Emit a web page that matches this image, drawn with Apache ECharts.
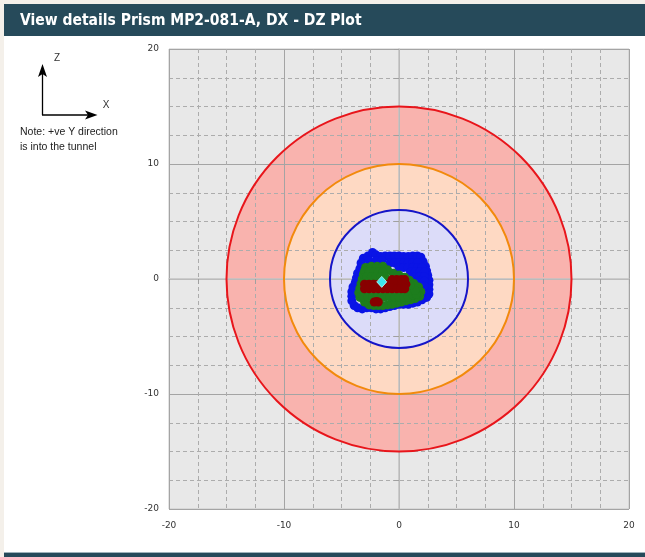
<!DOCTYPE html>
<html>
<head>
<meta charset="utf-8">
<script src="https://cdn.jsdelivr.net/npm/echarts@6/dist/echarts.min.js"></script>
<style>
html,body{margin:0;padding:0;background:#fff;}
#c{width:645px;height:557px;}
</style>
</head>
<body>
<div id="c"></div>
<script>
// ---------- data ----------
var titleText = 'View details Prism MP2-081-A, DX - DZ Plot';
var axisMin = -20, axisMax = 20, axisStep = 10;
var ringRadii = [15, 10, 6];           // tolerance circles (red, orange, blue)
var ringCentre = [0, 0];
var bluePoints = [
  [-3.1,1.8],[-2.7,2.0],[-2.3,2.3],[-2.0,2.1],[-1.6,1.95],[-1.2,2.0],[-0.8,2.0],[-0.4,2.0],[0,2.0],[0.4,1.95],[0.8,1.95],[1.2,2.0],[1.6,2.0],[1.9,1.9],
  [2.1,1.5],[2.3,1.1],[2.4,0.7],[2.5,0.3],[2.6,-0.1],[2.6,-0.5],[2.6,-0.9],[2.6,-1.3],[2.4,-1.6],
  [2.0,-1.8],[1.6,-2.0],[1.2,-2.1],[0.8,-2.2],[0.4,-2.2],[0,-2.2],[-0.4,-2.3],[-0.8,-2.4],[-1.2,-2.5],[-1.6,-2.6],[-2.0,-2.6],[-2.4,-2.5],[-2.8,-2.5],[-3.2,-2.6],[-3.6,-2.5],[-3.9,-2.3],
  [-4.1,-1.9],[-4.1,-1.5],[-4.1,-1.1],[-4.0,-0.7],[-3.8,-0.3],[-3.7,0.1],[-3.6,0.5],[-3.4,0.9],[-3.3,1.4],
  [-2.6,1.6],[-2.0,1.6],[-1.5,1.6],
  [-0.8,1.4],[-0.4,1.4],[0,1.4],[0.4,1.4],[0.8,1.4],[1.2,1.4],[1.6,1.4],
  [0,1.0],[0.4,1.0],[0.8,1.0],[1.2,1.0],[1.6,1.0],[2.0,1.0],
  [1.0,0.6],[1.4,0.6],[1.8,0.6],[2.2,0.6],[1.4,0.2],[1.8,0.2],[2.2,0.2],[1.8,-0.2],[2.2,-0.2],[2.2,-0.6]
];
var greenPoints = [
  [-2.9,1.0],[-2.4,1.1],[-1.9,1.1],[-1.4,1.1],[-1.0,0.8],[-0.5,0.5],[0,0.35],[0.5,0.15],[0.9,-0.1],[1.3,-0.4],[1.7,-0.7],[1.9,-1.1],[1.8,-1.5],
  [1.4,-1.7],[1.0,-1.8],[0.6,-1.9],[0.2,-2.0],[-0.2,-2.1],[-0.6,-2.2],[-1.0,-2.25],[-1.4,-2.3],[-1.8,-2.3],[-2.2,-2.3],[-2.6,-2.25],[-3.0,-2.0],
  [-3.4,-1.6],[-3.5,-1.2],[-3.4,-0.8],[-3.3,-0.4],[-3.2,0.0],[-3.1,0.4],[-3.0,0.7],
  [-2.6,0.6],[-2.2,0.6],[-1.8,0.6],[-1.4,0.6],[-2.8,0.2],[-2.4,0.2],[-2.0,0.2],[-1.6,0.2],[-1.2,0.2],
  [-3.1,-1.55],[-2.7,-1.55],[-2.3,-1.55],[-1.9,-1.55],[-1.5,-1.55],[-1.2,-1.55],[-0.8,-1.55],[-0.4,-1.55],[0,-1.55],[0.4,-1.55],[0.8,-1.55],[1.2,-1.4],[1.5,-1.3],
  [1.0,-1.0],[1.4,-1.0],[1.0,-0.5]
];
var redPoints = [
  [-3.0,-0.45],[-2.6,-0.45],[-2.2,-0.45],[-1.8,-0.45],[-1.4,-0.45],[-1.0,-0.45],[-0.6,-0.45],[-0.2,-0.45],[0.2,-0.45],[0.6,-0.45],
  [-3.0,-0.85],[-2.6,-0.85],[-2.2,-0.85],[-1.8,-0.85],[-1.4,-0.85],[-1.0,-0.85],[-0.6,-0.85],[-0.2,-0.85],[0.2,-0.85],[0.5,-0.85],
  [-0.6,-0.05],[-0.2,-0.05],[0.2,-0.05],[0.5,-0.05],
  [-2.15,-2.0],[-1.8,-2.0],[-1.95,-1.95]
];
var currentPoint = [[-1.5,-0.25]];
var noteLines = ['Note: +ve Y direction', 'is into the tunnel'];

// ---------- chart ----------
var ringStyles = [
  {stroke:'#e8151b', fill:'#f9b3ae'},
  {stroke:'#f28a0c', fill:'#fed9c3'},
  {stroke:'#1515c8', fill:'#dcdcf9'}
];
var ringData = ringRadii.map(function(r, i){ return [ringCentre[0], ringCentre[1], r, i]; });

var chart = echarts.init(document.getElementById('c'), null, {renderer:'canvas'});

function axisCommon(){
  return {
    type:'value', min:axisMin, max:axisMax, interval:axisStep, zlevel:1, z:3,
    axisLine:{show:true, lineStyle:{color:'#c2c2c2', width:1.5}},
    axisTick:{show:true, length:5, lineStyle:{color:'#a0a0a0'}},
    minorTick:{show:true, splitNumber:4, length:5, lineStyle:{color:'#a0a0a0'}},
    splitLine:{show:true, lineStyle:{color:'#a4a4a4', width:1}},
    minorSplitLine:{show:true, lineStyle:{color:'#acacac', width:1, type:[4,3]}},
    axisLabel:{color:'#333', fontFamily:'DejaVu Sans', fontSize:9}
  };
}
var xA = axisCommon(); xA.axisLabel.margin = 12;
var yA = axisCommon(); yA.axisLabel.margin = 10;

function ringRender(withFill){
  return function(params, api){
    var c = api.coord([api.value(0), api.value(1)]);
    var r = api.size([api.value(2), api.value(2)])[0];
    var s = ringStyles[api.value(3)];
    return {type:'circle', shape:{cx:c[0], cy:c[1], r:r},
      style: withFill ? {fill:s.fill, stroke:null, lineWidth:0} : {fill:null, stroke:s.stroke, lineWidth:2}};
  };
}

var option = {
  backgroundColor:'#ffffff',
  animation:false,
  grid:{left:169, top:49, width:460, height:460, show:true, backgroundColor:'#e8e8e8', borderColor:'#c8c8c8', borderWidth:1},
  xAxis:xA,
  yAxis:yA,
  graphic:[
    {type:'rect', shape:{x:0,y:0,width:4,height:557}, style:{fill:'#f4f0ea'}, z:100},
    {type:'rect', shape:{x:0,y:0,width:645,height:4}, style:{fill:'#f4f0ea'}, z:100},
    {type:'rect', shape:{x:4,y:4,width:641,height:32}, style:{fill:'#264a5a'}, z:100},
    {type:'text', x:20, y:20.5, style:{text:titleText, fill:'#ffffff', font:'bold 15.5px "DejaVu Sans Condensed"', textVerticalAlign:'middle'}, z:101},
    {type:'rect', shape:{x:4,y:552,width:641,height:1}, style:{fill:'#9fb3bb'}, z:100},
    {type:'rect', shape:{x:4,y:553,width:641,height:4}, style:{fill:'#264a5a'}, z:100},
    // axis direction sketch
    {type:'line', shape:{x1:42.5,y1:115,x2:42.5,y2:72}, style:{stroke:'#000',lineWidth:1.3}, z:100},
    {type:'polygon', shape:{points:[[42.5,64],[47,77],[42.5,74],[38,77]]}, style:{fill:'#000'}, z:100},
    {type:'line', shape:{x1:42,y1:115,x2:90,y2:115}, style:{stroke:'#000',lineWidth:1.3}, z:100},
    {type:'polygon', shape:{points:[[97.5,115],[85,110.5],[88,115],[85,119.5]]}, style:{fill:'#000'}, z:100},
    {type:'text', x:57, y:58, style:{text:'Z', fill:'#333', font:'10px "Liberation Sans"', textAlign:'center', textVerticalAlign:'middle'}, z:100},
    {type:'text', x:106, y:105.5, style:{text:'X', fill:'#333', font:'10px "Liberation Sans"', textAlign:'center', textVerticalAlign:'middle'}, z:100},
    {type:'text', x:20, y:132, style:{text:noteLines[0], fill:'#222', font:'10.5px "Liberation Sans"', textVerticalAlign:'middle'}, z:100},
    {type:'text', x:20, y:147, style:{text:noteLines[1], fill:'#222', font:'10.5px "Liberation Sans"', textVerticalAlign:'middle'}, z:100}
  ],
  series:[
    {type:'custom', zlevel:0, z:1, silent:true, data:ringData, renderItem:ringRender(true)},
    {type:'custom', zlevel:2, z:1, silent:true, data:ringData, renderItem:ringRender(false)},
    {type:'scatter', zlevel:2, z:5, symbol:'circle', symbolSize:9, data:bluePoints, itemStyle:{color:'#0a14e6', opacity:1}},
    {type:'scatter', zlevel:2, z:6, symbol:'circle', symbolSize:9, data:greenPoints, itemStyle:{color:'#1d7d1d', opacity:1}},
    {type:'scatter', zlevel:2, z:7, symbol:'circle', symbolSize:9, data:redPoints, itemStyle:{color:'#880000', opacity:1}},
    {type:'scatter', zlevel:2, z:8, symbol:'diamond', symbolSize:[10,11], data:currentPoint, itemStyle:{color:'#3ee8ee', borderColor:'#b8ffff', borderWidth:0.8, opacity:1}}
  ]
};
chart.setOption(option);
</script>
</body>
</html>
